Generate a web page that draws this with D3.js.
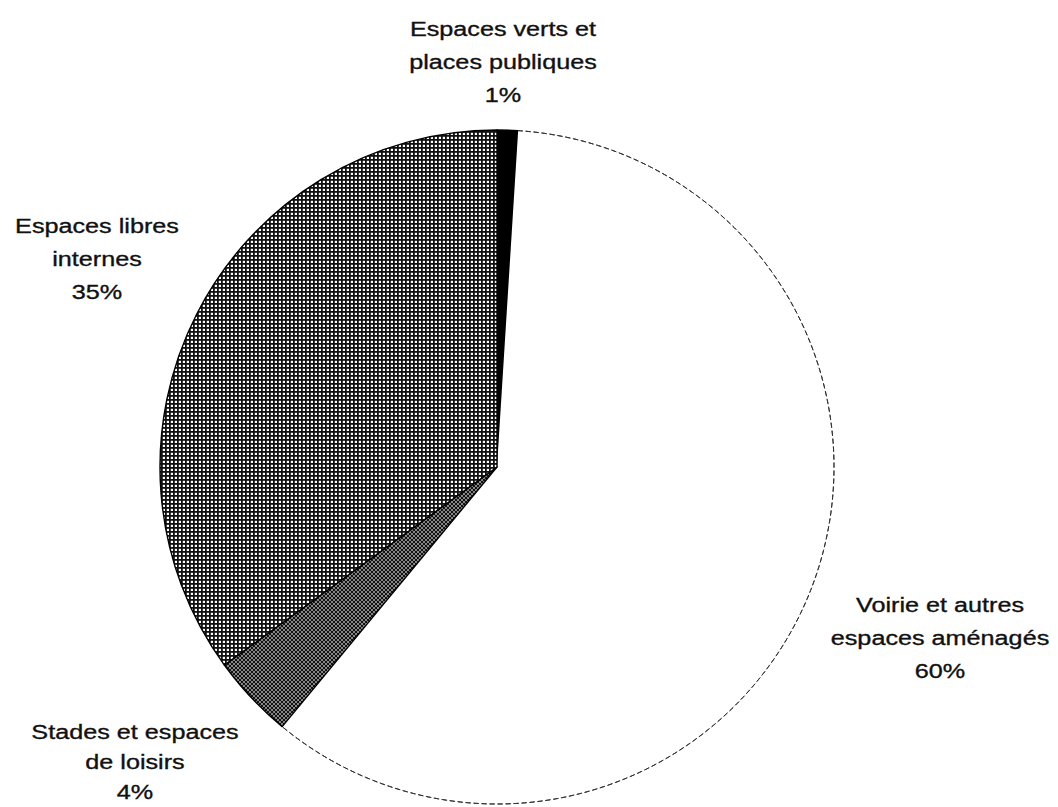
<!DOCTYPE html>
<html>
<head>
<meta charset="utf-8">
<script src="https://cdn.jsdelivr.net/npm/d3@7"></script>
<style>
  html, body { margin: 0; padding: 0; background: #fff; }
  svg { display: block; }
  text { font-family: "Liberation Sans", Arial, Helvetica, sans-serif; fill: #111; stroke: #111; stroke-width: 0.35; }
</style>
</head>
<body>
<svg id="chart" width="1058" height="807"></svg>
<script>
// Répartition des espaces non bâtis (en %)
const categories = [
  "Espaces verts et places publiques",
  "Voirie et autres espaces aménagés",
  "Stades et espaces de loisirs",
  "Espaces libres internes"
];
const values = [1, 60, 4, 35];
const labelLines = [
  ["Espaces verts et", "places publiques", "1%"],
  ["Voirie et autres", "espaces aménagés", "60%"],
  ["Stades et espaces", "de loisirs", "4%"],
  ["Espaces libres", "internes", "35%"]
];

// Layout
const W = 1058, H = 807;
const cx = 497, cy = 467, R = 337;
const labelAnchors = [[503, 36], [940, 612], [135, 739], [97, 233]];
const lineGaps = [33, 33, 30, 33];
const fontSize = 21;
const textStretch = 1.2;

const svg = d3.select("#chart");
const defs = svg.append("defs");

// Fine square grid fill
const grid = defs.append("pattern")
  .attr("id", "grid").attr("patternUnits", "userSpaceOnUse")
  .attr("width", 4).attr("height", 4);
grid.append("rect").attr("width", 4).attr("height", 4).attr("fill", "#fff");
grid.append("rect").attr("x", 0).attr("y", 0).attr("width", 4).attr("height", 1.8).attr("fill", "#111");
grid.append("rect").attr("x", 0).attr("y", 0).attr("width", 1.8).attr("height", 4).attr("fill", "#111");

// Dense diagonal dot fill
const dots = defs.append("pattern")
  .attr("id", "dots").attr("patternUnits", "userSpaceOnUse")
  .attr("width", 4).attr("height", 4);
dots.append("rect").attr("width", 4).attr("height", 4).attr("fill", "#111");
dots.append("rect").attr("x", 0.3).attr("y", 0.3).attr("width", 1.4).attr("height", 1.4).attr("fill", "#fff");
dots.append("rect").attr("x", 2.3).attr("y", 2.3).attr("width", 1.4).attr("height", 1.4).attr("fill", "#fff");

const fills = ["#000", "#fff", "url(#dots)", "url(#grid)"];

const pie = d3.pie().sort(null).value(d => d);
const arc = d3.arc().innerRadius(0).outerRadius(R);
const arcs = pie(values);

const g = svg.append("g").attr("transform", `translate(${cx},${cy})`);

g.selectAll("path.slice")
  .data(arcs)
  .join("path")
  .attr("class", "slice")
  .attr("d", arc)
  .attr("fill", (d, i) => fills[i])
  .attr("stroke", (d, i) => i === 1 ? "none" : "#000")
  .attr("stroke-width", 1.4)
  .attr("stroke-linejoin", "round");

// Thin broken outline round the white slice
const outerOnly = d3.arc().innerRadius(R).outerRadius(R)
  .startAngle(arcs[1].startAngle).endAngle(arcs[1].endAngle);
g.append("path")
  .attr("d", outerOnly())
  .attr("fill", "none")
  .attr("stroke", "#333")
  .attr("stroke-width", 1)
  .attr("stroke-dasharray", "5,3");

// Labels
const labels = svg.selectAll("g.label")
  .data(labelLines)
  .join("g")
  .attr("class", "label")
  .attr("transform", (d, i) => `translate(${labelAnchors[i][0]},${labelAnchors[i][1]}) scale(${textStretch},1)`);

labels.selectAll("text")
  .data((d, i) => d.map(t => ({ t, gap: lineGaps[i] })))
  .join("text")
  .attr("x", 0)
  .attr("y", (d, j) => j * d.gap)
  .attr("text-anchor", "middle")
  .attr("font-size", fontSize)
  .text(d => d.t);
</script>
</body>
</html>
